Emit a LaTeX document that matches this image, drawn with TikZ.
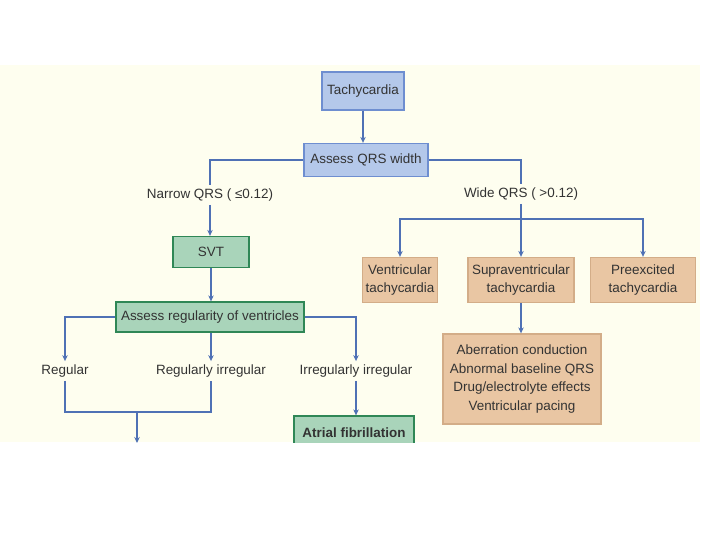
\documentclass[tikz,border=0pt]{standalone}
\usepackage{fontspec}
\setmainfont{Liberation Sans}
\usepackage{tikz}
\usetikzlibrary{arrows.meta}

\definecolor{bgcream}{HTML}{FEFEEF}
\definecolor{lnblue}{HTML}{4F71B5}
\definecolor{bxblue}{HTML}{B4C8EA}
\definecolor{bdblue}{HTML}{6E8ED0}
\definecolor{bxgreen}{HTML}{A9D4BA}
\definecolor{bdgreen}{HTML}{2F8756}
\definecolor{bxtan}{HTML}{E9C6A3}
\definecolor{bdtan}{HTML}{D3AD88}
\definecolor{txgray}{HTML}{333333}

\tikzset{
    box/.style={draw, line width=1.3pt, inner sep=2pt, align=center, text=txgray},
    bluebox/.style={box, fill=bxblue, draw=bdblue},
    greenbox/.style={box, fill=bxgreen, draw=bdgreen},
    tanbox/.style={box, fill=bxtan, draw=bdtan},
    lbl/.style={inner sep=3pt, text=txgray}
}

\begin{document}
\begin{tikzpicture}[x=1bp, y=-1bp, >={Stealth[length=6pt, width=5.5pt]}, line width=1.3pt, draw=lnblue, font=\fontsize{13.5}{19}\selectfont]
                    \useasboundingbox (0,0) rectangle (720,540);
                    \fill [bgcream] (0,65) rectangle (700,442);

                    \begin{scope}
                        \clip (0,65) rectangle (700,442);

                        \node [bluebox, minimum width=82bp, minimum height=38bp] (tachy) at (363,91) {Tachycardia};
                        \node [bluebox, minimum width=124bp, minimum height=33bp] (qrs) at (366,160) {Assess QRS width};

                        \node [lbl] (narrow) at (210,195) {Narrow QRS ( ≤0.12)};
                        \node [lbl] (wide) at (521,194) {Wide QRS ( >0.12)};

                        \node [greenbox, minimum width=76bp, minimum height=31bp] (svt) at (211,252) {SVT};
                        \node [greenbox, minimum width=188bp, minimum height=30bp] (regul) at (210,317) {Assess regularity of ventricles};

                        \node [tanbox, minimum width=75bp, minimum height=45bp] (vt) at (400,280) {Ventricular\\tachycardia};
                        \node [tanbox, minimum width=106bp, minimum height=45bp] (supra) at (521,280) {Supraventricular\\tachycardia};
                        \node [tanbox, minimum width=105bp, minimum height=45bp] (pre) at (643,280) {Preexcited\\tachycardia};
                        \node [tanbox, minimum width=158bp, minimum height=90bp] (aberr) at (522,379) {Aberration conduction\\Abnormal baseline QRS\\Drug/electrolyte effects\\Ventricular pacing};

                        \node [lbl] (reg) at (65,371) {Regular};
                        \node [lbl] (regirr) at (211,371) {Regularly irregular};
                        \node [lbl] (irr) at (356,371) {Irregularly irregular};

                        \node [greenbox, minimum width=120bp, minimum height=34bp, font=\fontsize{13.5}{19}\selectfont\bfseries] (afib) at (354,433) {Atrial fibrillation};

                        \coordinate (wsplit) at (521,219);
                        \coordinate (join) at (137,412);
                        \coordinate (jdown) at (137,443);

                        \draw [->] (tachy.south) -- (tachy.south |- qrs.north);
                        \draw (qrs.west) -| (narrow.north);
                        \draw [->] (narrow.south) -- (narrow.south |- svt.north);
                        \draw (qrs.east) -| (wide.north);
                        \draw (wide) -- (wsplit);
                        \foreach \b in {vt, supra, pre} {%
                            \draw [->] (wsplit) -| (\b.north);
                        }
                        \draw [->] (supra.south) -- (supra.south |- aberr.north);

                        \draw [->] (svt.south) -- (svt.south |- regul.north);
                        \draw [->] (regul.west) -| (reg.north);
                        \draw [->] (regul.south -| regirr.north) -- (regirr.north);
                        \draw [->] (regul.east) -| (irr.north);
                        \draw [->] (irr.south) -- (irr.south |- afib.north);
                        \draw (reg.south) |- (join) -| (regirr.south);
                        \draw [->] (join) -- (jdown);
                    \end{scope}
                \end{tikzpicture}
\end{document}
